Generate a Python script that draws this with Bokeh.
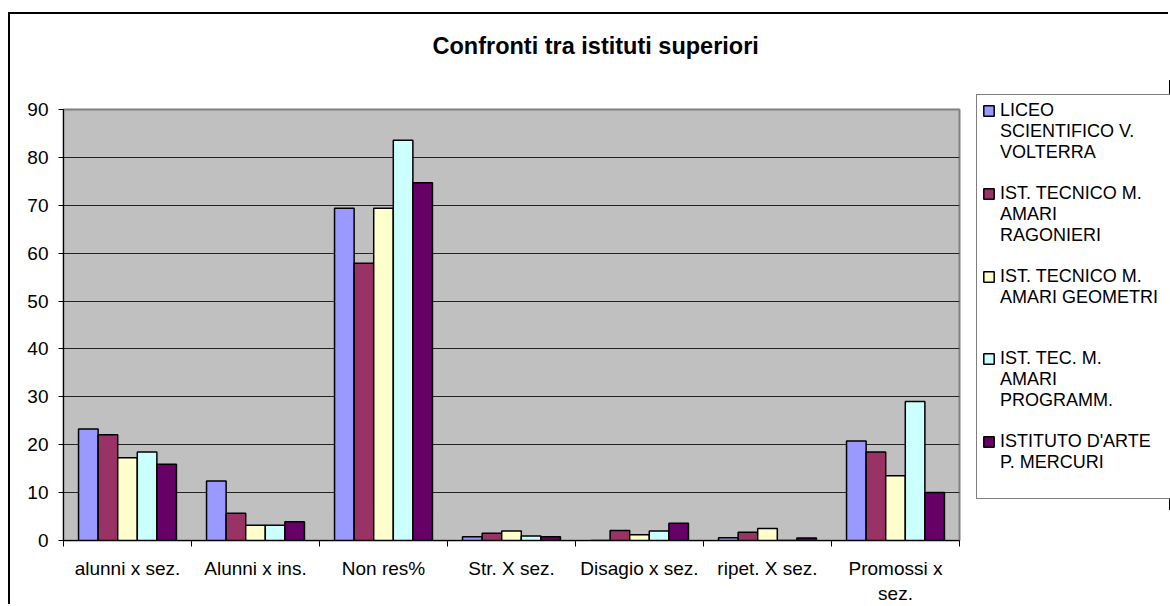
from bokeh.plotting import figure
from bokeh.models import (ColumnDataSource, FixedTicker, Legend, LegendItem,
                          Range1d, Title)
from bokeh.transform import dodge
from bokeh.embed import file_html
from bokeh.resources import INLINE

# ---------------- data ----------------
categories = ["alunni x sez.", "Alunni x ins.", "Non res%", "Str. X sez.",
              "Disagio x sez.", "ripet. X sez.", "Promossi x\nsez."]

liceo_volterra = [23.3, 12.4, 69.4, 0.76, 0.0, 0.6, 20.8]
amari_ragonieri = [22.1, 5.7, 57.9, 1.5, 2.1, 1.7, 18.5]
amari_geometri = [17.3, 3.2, 69.4, 2.0, 1.2, 2.5, 13.5]
amari_programm = [18.5, 3.2, 83.6, 0.95, 2.0, 0.0, 29.0]
arte_mercuri = [15.9, 3.9, 74.7, 0.76, 3.6, 0.5, 10.0]

legend_lines = [["LICEO", "SCIENTIFICO V.", "VOLTERRA"],
                ["IST. TECNICO M.", "AMARI", "RAGONIERI"],
                ["IST. TECNICO M.", "AMARI GEOMETRI"],
                ["IST. TEC. M.", "AMARI", "PROGRAMM."],
                ["ISTITUTO D'ARTE", "P. MERCURI"]]
colors = ["#9999FF", "#993366", "#FFFFCC", "#CCFFFF", "#660066"]
y_ticks = list(range(0, 91, 10))
title_text = "Confronti tra istituti superiori"

# ---------------- main chart ----------------
FONT = "Liberation Sans"
positions = [i + 0.5 for i in range(len(categories))]
source = ColumnDataSource(data=dict(
    x=positions, s0=liceo_volterra, s1=amari_ragonieri, s2=amari_geometri,
    s3=amari_programm, s4=arte_mercuri))
series_fields = ["s0", "s1", "s2", "s3", "s4"]

p = figure(width=1160, height=592, output_backend="svg", toolbar_location=None,
           x_range=Range1d(0, len(categories)), y_range=Range1d(0, 90),
           min_border_left=53, min_border_right=211, min_border_top=95,
           min_border_bottom=64, background_fill_color="#C0C0C0",
           border_fill_color="white",
           outline_line_color="#808080", outline_line_width=2)
p.title = None
p.styles = {"margin-left": "8px", "margin-top": "12px",
            "border-left": "2px solid black", "border-top": "2px solid black"}

bw = 0.153
offsets = [-2 * bw, -bw, 0, bw, 2 * bw]
for k in range(5):
    p.vbar(x=dodge("x", offsets[k], range=p.x_range), top=series_fields[k],
           width=bw, source=source, fill_color=colors[k],
           line_color="black", line_width=1.5)

# spacer between title and plot area, then the title itself
spacer = Title(text=" ", text_font=FONT, text_font_size="10px", standoff=36)
p.add_layout(spacer, "above")
t = Title(text=title_text, align="left", offset=369,
          text_font=FONT, text_font_size="23.5px", text_font_style="bold",
          text_color="black", standoff=4)
p.add_layout(t, "above")

# axes
p.xaxis.ticker = FixedTicker(ticks=positions, minor_ticks=list(range(len(categories) + 1)))
p.xaxis.major_label_overrides = {pos: c for pos, c in zip(positions, categories)}
p.xaxis.major_tick_line_color = None
p.xaxis.major_tick_out = 0
p.xaxis.major_tick_in = 0
p.xaxis.minor_tick_out = 6
p.xaxis.minor_tick_in = 0
p.xaxis.minor_tick_line_color = "black"
p.xaxis.axis_line_color = "black"
p.xaxis.major_label_standoff = 11
p.xaxis.axis_label_standoff = 0
p.xaxis.major_label_text_font = FONT
p.xaxis.major_label_text_font_size = "19px"
p.xaxis.major_label_text_color = "black"

p.yaxis.ticker = FixedTicker(ticks=y_ticks, minor_ticks=[])
p.yaxis.major_tick_out = 5
p.yaxis.major_tick_in = 0
p.yaxis.major_tick_line_color = "black"
p.yaxis.axis_line_color = "black"
p.yaxis.major_label_standoff = 10
p.yaxis.axis_label_standoff = 0
p.yaxis.major_label_text_font = FONT
p.yaxis.major_label_text_font_size = "19px"
p.yaxis.major_label_text_color = "black"

p.xgrid.grid_line_color = None
p.ygrid.ticker = FixedTicker(ticks=y_ticks)
p.ygrid.grid_line_color = "#222222"
p.ygrid.grid_line_width = 1

# ---------------- legend panel (separate, absolutely placed) ----------------
q = figure(width=200, height=430, output_backend="svg", toolbar_location=None,
           x_axis_type=None, y_axis_type=None, x_range=Range1d(-10, -9),
           y_range=Range1d(0, 1), min_border_left=0, min_border_right=0,
           min_border_top=0, min_border_bottom=0, outline_line_color=None,
           background_fill_color="white", border_fill_color="white")
q.title = None
q.xgrid.grid_line_color = None
q.ygrid.grid_line_color = None
q.styles = {"position": "absolute", "left": "970px", "top": "80px"}

# legend swatch renderers (same series, kept outside this panel's visible range)
swatches = [q.vbar(x="x", top=series_fields[k], source=source, width=bw,
                   fill_color=colors[k], line_color="black", line_width=1.5)
            for k in range(5)]
blank = q.vbar(x="x", top="s0", source=source, width=bw, fill_alpha=0,
               line_alpha=0)

items = []
for k, lines in enumerate(legend_lines):
    items.append(LegendItem(label=lines[0], renderers=[swatches[k]]))
    for ln in lines[1:]:
        items.append(LegendItem(label=ln, renderers=[blank]))
    extra = 4 - len(lines) if k < len(legend_lines) - 1 else 1
    for _ in range(extra):
        items.append(LegendItem(label=" ", renderers=[blank]))

legend = Legend(items=items, location=(6, 11), orientation="vertical",
                label_text_font=FONT, label_text_font_size="18px",
                label_text_color="black", label_height=20, glyph_height=13,
                glyph_width=13, label_standoff=5, padding=5, spacing=0,
                margin=0, border_line_color="black", border_line_width=1,
                background_fill_color="white", background_fill_alpha=1,
                label_width=200)
q.add_layout(legend, "center")

open("out.html", "w").write(file_html((p, q), INLINE))
